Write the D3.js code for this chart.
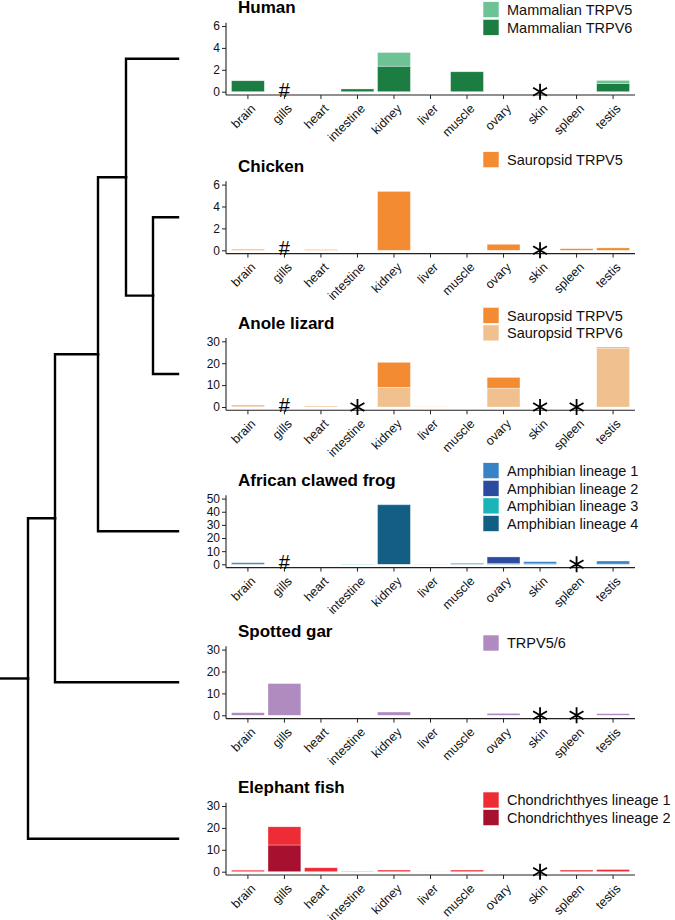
<!DOCTYPE html>
<html><head><meta charset="utf-8">
<script src="https://cdn.jsdelivr.net/npm/d3@7"></script>
<style>
body{margin:0;background:#fff}
svg{display:block}
text{font-family:"Liberation Sans", Arial, Helvetica, sans-serif}
</style>
</head><body>
<svg id="chart" width="675" height="920"></svg>
<script>
// ---------------- DATA ----------------
const tissues = ["brain","gills","heart","intestine","kidney","liver","muscle","ovary","skin","spleen","testis"];
const species = ["Human","Chicken","Anole lizard","African clawed frog","Spotted gar","Elephant fish"];

const humanTRPV5 = [0,0,0,0,1.25,0,0,0,0,0,0.27];
const humanTRPV6 = [1.0,0,0,0.25,2.33,0,1.82,0,0,0,0.76];

const chickenTRPV5 = [0.09,0,0.06,0,5.38,0,0,0.55,0,0.15,0.22];

const anoleTRPV5 = [0.4,0,0,0,11.4,0,0,4.9,0,0,0.5];
const anoleTRPV6 = [0.5,0,0.46,0,9.0,0.1,0,8.6,0,0,26.8];

const frogLineage1 = [0.3,0,0,0,0.4,0.1,0.6,0,1.6,0,2.3];
const frogLineage2 = [0,0,0,0,0,0,0,4.8,0,0,0];
const frogLineage3 = [0,0,0,0.2,0,0,0,0,0,0,0];
const frogLineage4 = [1.0,0,0,0,45.3,0,0.4,0.8,0.4,0,0.2];

const garTRPV56 = [1.2,14.5,0,0,1.5,0,0,0.9,0,0,0.75];

const elephantLineage1 = [0.7,8.3,1.8,0.2,0.76,0.1,0.76,0,0,0.76,1.0];
const elephantLineage2 = [0,12.2,0,0,0,0,0,0,0,0,0];

const yMaxima = [6,6,30,50,30,30];
const yTicks = [[0,2,4,6],[0,2,4,6],[0,10,20,30],[0,10,20,30,40,50],[0,10,20,30],[0,10,20,30]];

const hashMarks = [["gills"],["gills"],["gills"],["gills"],[],[]];
const starMarks = [["skin"],["skin"],["intestine","skin","spleen"],["spleen"],["skin","spleen"],["skin"]];

const seriesNames = [
  ["Mammalian TRPV5","Mammalian TRPV6"],
  ["Sauropsid TRPV5"],
  ["Sauropsid TRPV5","Sauropsid TRPV6"],
  ["Amphibian lineage 1","Amphibian lineage 2","Amphibian lineage 3","Amphibian lineage 4"],
  ["TRPV5/6"],
  ["Chondrichthyes lineage 1","Chondrichthyes lineage 2"]
];
const seriesValues = [
  [humanTRPV5, humanTRPV6],
  [chickenTRPV5],
  [anoleTRPV5, anoleTRPV6],
  [frogLineage1, frogLineage2, frogLineage3, frogLineage4],
  [garTRPV56],
  [elephantLineage1, elephantLineage2]
];

// tree topology: ((((Human,(Chicken,Anole)),Frog),Gar),Elephant)
const tree = {children:[
  {children:[
    {children:[
      {children:[
        {leaf:"Human"},
        {children:[{leaf:"Chicken"},{leaf:"Anole lizard"}]}
      ]},
      {leaf:"African clawed frog"}
    ]},
    {leaf:"Spotted gar"}
  ]},
  {leaf:"Elephant fish"}
]};

// ---------------- STYLE / LAYOUT ----------------
const colors = {
  "Mammalian TRPV5":"#6dc296",
  "Mammalian TRPV6":"#1c7d43",
  "Sauropsid TRPV5":"#f38b32",
  "Sauropsid TRPV6":"#f0c18f",
  "Amphibian lineage 1":"#3883c6",
  "Amphibian lineage 2":"#2a4b9f",
  "Amphibian lineage 3":"#19b5b9",
  "Amphibian lineage 4":"#135f83",
  "TRPV5/6":"#b08bc0",
  "Chondrichthyes lineage 1":"#ed2c35",
  "Chondrichthyes lineage 2":"#a8102f"
};
const zeroY = [91.7, 250.3, 407, 564.3, 715.3, 871.7];
const legendDy = [-90, -98.6, -99.7, -101.6, -80.3, -79.7];
const plotH = 65.7;
const axisL = 226, axisR = 635;
const nodeX = [28, 55, 98, 126, 153];
const tipX = 178;

const svg = d3.select("#chart");

const x = d3.scaleBand().domain(tissues).range([axisL, axisR]).paddingInner(0.1).paddingOuter(0.15);

species.forEach((sp, i) => {
  const z = zeroY[i];
  const ymax = yMaxima[i];
  const y = d3.scaleLinear().domain([0, ymax]).range([z, z - plotH]);
  const g = svg.append("g");
  const names = seriesNames[i];
  const vals = seriesValues[i];
  const rows = tissues.map((t, k) => {
    const r = {tissue: t};
    names.forEach((n, s) => r[n] = vals[s][k]);
    return r;
  });
  const stack = d3.stack().keys(names.slice().reverse());
  const layers = stack(rows);

  g.selectAll("g.layer").data(layers).join("g")
    .attr("class", "layer")
    .attr("fill", d => colors[d.key])
    .selectAll("rect").data(d => d.filter(p => p[1] - p[0] > 0)).join("rect")
    .attr("x", d => x(d.data.tissue))
    .attr("width", x.bandwidth())
    .attr("y", d => y(d[1]))
    .attr("height", d => y(d[0]) - y(d[1]))
    .attr("stroke", "#ffffff")
    .attr("stroke-opacity", 0.55)
    .attr("stroke-width", 0.6);

  // axes
  const axisY = y(-0.05 * ymax);
  const yAx = g.append("g").attr("transform", `translate(${axisL},0)`)
    .call(d3.axisLeft(y).tickValues(yTicks[i]).tickSize(4).tickPadding(2).tickFormat(d3.format("d")));
  yAx.select(".domain").remove();
  yAx.selectAll("line").attr("stroke", "#222").attr("stroke-width", 1);
  yAx.selectAll("text").attr("font-size", 12).attr("fill", "#111")
    .attr("font-family", "'Liberation Sans', Arial, sans-serif");
  g.append("line").attr("x1", axisL).attr("x2", axisL)
    .attr("y1", axisY).attr("y2", y(1.05 * ymax))
    .attr("stroke", "#222").attr("stroke-width", 1.1);

  const xAx = g.append("g").attr("transform", `translate(0,${axisY})`)
    .call(d3.axisBottom(x).tickSize(4).tickFormat(""));
  xAx.select(".domain").remove();
  xAx.selectAll(".tick line").attr("stroke", "#222").attr("stroke-width", 1);
  xAx.selectAll(".tick text").remove();
  xAx.selectAll(".tick").append("text")
    .attr("class", "xlab")
    .attr("font-size", 12.5).attr("fill", "#111")
    .attr("font-family", "'Liberation Sans', Arial, sans-serif")
    .attr("text-anchor", "end")
    .attr("dy", "0.72em")
    .attr("transform", "translate(2,8) rotate(-45)")
    .text(d => d);
  g.append("line").attr("x1", axisL).attr("x2", axisR)
    .attr("y1", axisY).attr("y2", axisY)
    .attr("stroke", "#222").attr("stroke-width", 1.1);

  // markers
  g.selectAll("text.hash").data(hashMarks[i]).join("text")
    .attr("class", "hash")
    .attr("x", d => x(d) + x.bandwidth() / 2)
    .attr("y", z + 5)
    .attr("text-anchor", "middle")
    .attr("font-size", 20)
    .attr("fill", "#000")
    .text("#");
  g.selectAll("path.star").data(starMarks[i]).join("path")
    .attr("class", "star")
    .attr("transform", d => `translate(${x(d) + x.bandwidth() / 2},${z})`)
    .attr("d", d3.symbol(d3.symbolAsterisk, 180))
    .attr("fill", "none").attr("stroke", "#000").attr("stroke-width", 1.8);

  // title
  g.append("text").attr("x", 238).attr("y", z - 78.5)
    .attr("font-size", 17).attr("font-weight", "bold").attr("fill", "#000")
    .text(sp);

  // legend
  const lg = g.append("g").attr("transform", `translate(483,${z + legendDy[i]})`);
  const item = lg.selectAll("g").data(names).join("g")
    .attr("transform", (d, k) => `translate(0,${k * 17.6})`);
  item.append("rect").attr("width", 16).attr("height", 16)
    .attr("fill", d => colors[d]).attr("stroke", "#fff").attr("stroke-width", 0.6);
  item.append("text").attr("x", 24).attr("y", 8).attr("dy", "0.36em")
    .attr("font-size", 14.5).attr("fill", "#111").text(d => d);
});

// ---------------- TREE ----------------
const root = d3.hierarchy(tree);
root.eachAfter(n => {
  if (!n.children) {
    n.py = zeroY[species.indexOf(n.data.leaf)] - 33;
    n.px = tipX;
  } else {
    n.py = (n.children[0].py + n.children[n.children.length - 1].py) / 2;
    n.px = nodeX[n.depth];
  }
});
const tg = svg.append("g").attr("fill", "none").attr("stroke", "#000")
  .attr("stroke-width", 2.4).attr("stroke-linecap", "square");
// root stub
tg.append("path").attr("d", `M0,${root.py}H${root.px}`);
tg.selectAll("path.link").data(root.links()).join("path")
  .attr("class", "link")
  .attr("d", l => `M${l.source.px},${l.source.py}V${l.target.py}H${l.target.px}`);
</script>
</body></html>
